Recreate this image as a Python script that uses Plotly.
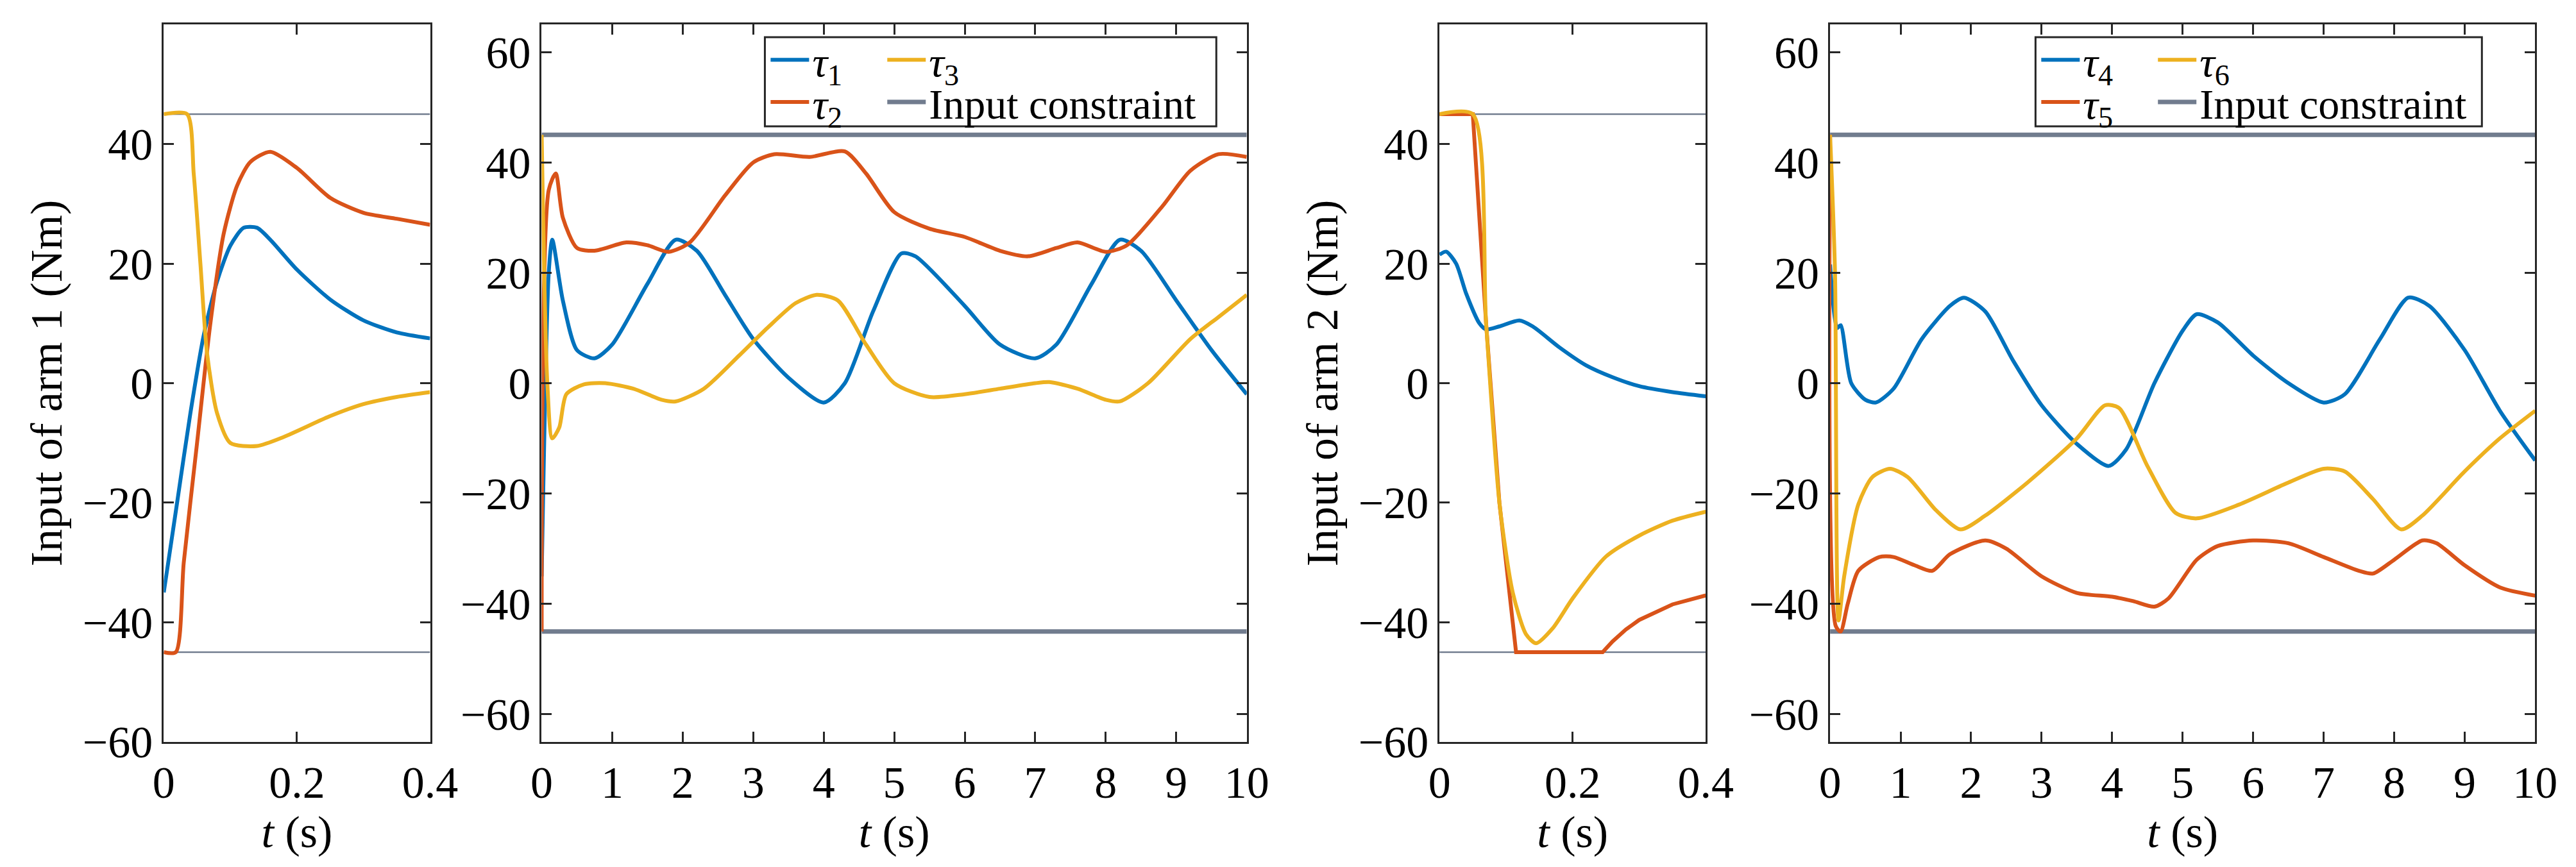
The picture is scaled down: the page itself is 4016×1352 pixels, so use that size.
import plotly.graph_objects as go

# panel 1 / 3 : zoom on 0-0.4 s ; panel 2 / 4 : full 0-10 s
t1a = [0, 0.02, 0.04, 0.06, 0.08, 0.1, 0.12, 0.14, 0.16, 0.2, 0.25, 0.3, 0.35, 0.4]
tau1a = [-35, -20, -5, 8, 17, 23, 26, 26, 24, 19, 14, 10.5, 8.5, 7.5]
t2a = [0, 0.018, 0.03, 0.05, 0.07, 0.09, 0.11, 0.13, 0.16, 0.2, 0.25, 0.3, 0.35, 0.4]
tau2a = [-45, -45, -30, -10, 10, 25, 33, 37, 38.7, 36, 31, 28.5, 27.5, 26.5]
t3a = [0, 0.035, 0.045, 0.055, 0.065, 0.08, 0.1, 0.14, 0.18, 0.25, 0.3, 0.35, 0.4]
tau3a = [45, 45, 35, 20, 5, -5, -10, -10.5, -9, -5.5, -3.5, -2.3, -1.5]

t1b = [0, 0.1, 0.15, 0.3, 0.5, 0.75, 1, 1.5, 1.9, 2.2, 2.6, 3, 3.5, 4, 4.3, 4.7, 5.1, 5.3, 6, 6.5, 7, 7.3, 7.8, 8.2, 8.5, 9, 9.5, 10]
tau1b = [-35, 20, 26, 15, 6, 4.5, 7, 18, 26, 24, 16, 8, 1, -3.5, 0, 13, 23.5, 23, 14, 7, 4.5, 7, 18, 26, 24, 15, 6, -2]
t2b = [0, 0.1, 0.2, 0.3, 0.5, 0.75, 1.2, 1.5, 1.8, 2.1, 2.6, 3, 3.3, 3.8, 4.3, 4.6, 5, 5.5, 6, 6.5, 6.9, 7.3, 7.6, 8, 8.3, 8.8, 9.2, 9.6, 10]
tau2b = [-45, 35, 38, 30, 24.5, 24, 25.5, 25, 23.8, 25.5, 34, 40, 41.5, 41, 42, 38, 31, 28, 26.5, 24, 23, 24.5, 25.5, 23.8, 25, 32, 38.5, 41.5, 41]
t3b = [0, 0.08, 0.15, 0.25, 0.35, 0.6, 0.9, 1.3, 1.7, 1.9, 2.3, 2.8, 3.2, 3.6, 3.9, 4.2, 4.6, 5, 5.5, 6, 6.5, 7, 7.2, 7.6, 8, 8.2, 8.6, 9.2, 9.6, 10]
tau3b = [45, 0, -10, -8, -2, -0.2, 0, -1, -3, -3.3, -1, 5, 10, 14.5, 16, 15, 7, 0, -2.5, -2, -1, 0, 0.2, -1, -3, -3.3, 0, 8, 12, 16]

t4a = [0, 0.01, 0.025, 0.04, 0.06, 0.07, 0.09, 0.12, 0.14, 0.18, 0.22, 0.26, 0.3, 0.35, 0.4]
tau4a = [21.5, 22, 20, 15, 10, 9, 9.5, 10.5, 9.5, 6, 3, 1, -0.5, -1.5, -2.2]
t5a = [0, 0.05, 0.07, 0.09, 0.11, 0.115, 0.245, 0.26, 0.28, 0.3, 0.35, 0.4]
tau5a = [45, 45, 10, -20, -40, -45, -45, -43.2, -41.2, -39.6, -37, -35.5]
t6a = [0, 0.05, 0.07, 0.09, 0.11, 0.13, 0.145, 0.17, 0.2, 0.25, 0.3, 0.35, 0.4]
tau6a = [45, 45, 10, -20, -35, -42, -43.5, -41, -36, -29, -25.5, -23, -21.5]

t4b = [0, 0.1, 0.15, 0.3, 0.5, 0.65, 0.9, 1.3, 1.7, 1.9, 2.2, 2.6, 3, 3.5, 3.95, 4.2, 4.6, 5, 5.2, 5.5, 6, 6.5, 7, 7.3, 7.8, 8.2, 8.5, 9, 9.5, 10]
tau4b = [21.5, 10, 10.5, 0, -3, -3.5, -1, 8, 14, 15.5, 13, 4, -4, -11, -15, -12, 0, 9.5, 12.5, 11, 5, 0, -3.5, -2, 8, 15.5, 14, 6, -5, -14]
t5b = [0, 0.08, 0.15, 0.25, 0.4, 0.7, 0.9, 1.2, 1.45, 1.7, 2.2, 2.5, 3, 3.5, 4, 4.3, 4.6, 4.8, 5.2, 5.5, 6, 6.5, 7, 7.5, 7.7, 8, 8.4, 8.6, 9, 9.5, 10]
tau5b = [45, -44, -45, -40, -34, -31.5, -31.5, -33, -34, -31, -28.5, -30, -35, -38, -38.7, -39.5, -40.5, -39, -32, -29.5, -28.5, -29, -31.5, -34, -34.5, -32, -28.5, -29, -33, -37, -38.5]
t6b = [0, 0.07, 0.12, 0.2, 0.4, 0.6, 0.85, 1.1, 1.5, 1.85, 2.2, 2.8, 3.5, 3.9, 4.1, 4.5, 4.9, 5.2, 5.8, 6.5, 7, 7.3, 7.7, 8.1, 8.4, 9, 9.5, 10]
tau6b = [45, 20, -43, -35, -22, -17, -15.5, -17, -23, -26.5, -24, -18, -10, -4, -4.5, -15, -23.5, -24.5, -22, -18, -15.5, -16, -21, -26.5, -24, -16, -10, -5]

u_max = 45
blue, red, yellow, grey = "#0072BD", "#D95319", "#EDB120", "#717C8E"
FONT = "Liberation Serif"

fig = go.Figure()

def add(x, y, color, ax, name=None, legend=None, shape="spline"):
    fig.add_trace(go.Scatter(
        x=x, y=y, mode="lines", xaxis="x" + ax, yaxis="y" + ax,
        line=dict(color=color, width=6, shape=shape, smoothing=0.7),
        name=name, showlegend=name is not None, legend=legend))

def limits(xmax, ax, width, legend=None):
    for k, v in enumerate([u_max, -u_max]):
        fig.add_trace(go.Scatter(
            x=[0, xmax], y=[v, v], mode="lines", xaxis="x" + ax, yaxis="y" + ax,
            line=dict(color=grey, width=width),
            name="Input constraint", legend=legend,
            showlegend=(legend is not None and k == 0)))

# arm 1
limits(0.4, "", 2.5)
add(t1a, tau1a, blue, "")
add(t2a, tau2a, red, "")
add(t3a, tau3a, yellow, "")
limits(10, "2", 7, "legend4")
add(t1b, tau1b, blue, "2", "<i>τ</i><sub>1</sub>", "legend")
add(t2b, tau2b, red, "2", "<i>τ</i><sub>2</sub>", "legend2")
add(t3b, tau3b, yellow, "2", "<i>τ</i><sub>3</sub>", "legend3")
# arm 2
limits(0.4, "3", 2.5)
add(t4a, tau4a, blue, "3")
add(t5a, tau5a, red, "3", shape="linear")
add(t6a, tau6a, yellow, "3")
limits(10, "4", 7, "legend8")
add(t4b, tau4b, blue, "4", "<i>τ</i><sub>4</sub>", "legend5")
add(t5b, tau5b, red, "4", "<i>τ</i><sub>5</sub>", "legend6")
add(t6b, tau6b, yellow, "4", "<i>τ</i><sub>6</sub>", "legend7")

FS = 70
common = dict(showline=True, linecolor="#262626", linewidth=3, mirror="allticks",
              ticks="inside", ticklen=16, tickwidth=3, tickcolor="#262626",
              showgrid=False, zeroline=False,
              tickfont=dict(family=FONT, size=FS, color="black"))
xt = dict(text="<i>t</i> (s)", font=dict(family=FONT, size=FS, color="black"), standoff=4)

domains = [[0.058, 0.163], [0.207, 0.485], [0.561, 0.666], [0.715, 0.993]]
lay = {}
for i, d in enumerate(domains):
    s = "" if i == 0 else str(i + 1)
    short = i % 2 == 0
    lay["xaxis" + s] = dict(common, domain=d, anchor="y" + s,
                            range=[0, 0.4] if short else [0, 10],
                            tickvals=[0, 0.2, 0.4] if short else list(range(11)),
                            title=xt)
    yax = dict(common, domain=[0.125, 0.977], anchor="x" + s,
               range=[-60, 60] if short else [-65, 65],
               tickvals=[-60, -40, -20, 0, 20, 40, 60],
               ticktext=["\u221260", "\u221240", "\u221220", "0", "20", "40", "60"])
    if short:
        yax["title"] = dict(text="Input of arm %d (Nm)" % (i // 2 + 1),
                            font=dict(family=FONT, size=FS, color="black"), standoff=10)
    lay["yaxis" + s] = yax

lfont = dict(family=FONT, size=66, color="black")
leg = dict(bgcolor="rgba(0,0,0,0)", font=lfont, yanchor="middle", itemwidth=60)
row1, row2 = 0.935, 0.885
lay["legend"] = dict(leg, x=0.296, y=row1)
lay["legend2"] = dict(leg, x=0.296, y=row2)
lay["legend3"] = dict(leg, x=0.342, y=row1)
lay["legend4"] = dict(leg, x=0.342, y=row2)
lay["legend5"] = dict(leg, x=0.797, y=row1)
lay["legend6"] = dict(leg, x=0.797, y=row2)
lay["legend7"] = dict(leg, x=0.843, y=row1)
lay["legend8"] = dict(leg, x=0.843, y=row2)

fig.update_layout(**lay)
for x0, x1 in [(0.295, 0.473), (0.796, 0.972)]:
    fig.add_shape(type="rect", xref="paper", yref="paper", x0=x0, x1=x1, y0=0.856, y1=0.962,
                  line=dict(color="#262626", width=3), fillcolor="white", layer="below")

fig.update_layout(width=4016, height=1352, plot_bgcolor="white", paper_bgcolor="white",
                  margin=dict(l=0, r=0, t=0, b=0), font=dict(family=FONT, color="black"))
fig.write_html("out.html")
